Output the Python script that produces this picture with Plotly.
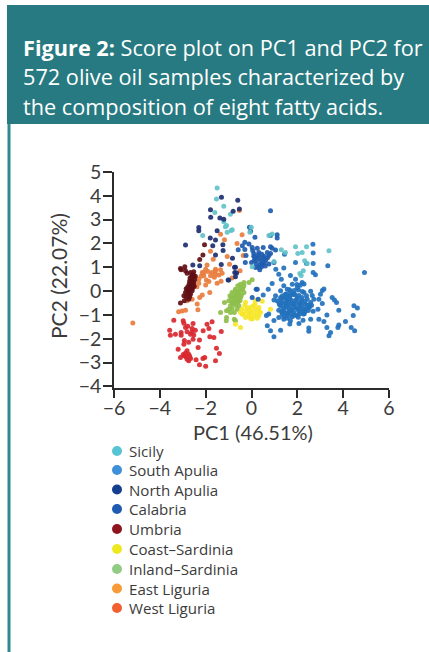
import plotly.graph_objects as go

# ---- text ----
regions = ["Sicily", "South Apulia", "North Apulia", "Calabria", "Umbria",
           "Coast–Sardinia", "Inland–Sardinia", "East Liguria", "West Liguria"]
x_ticks = [-6, -4, -2, 0, 2, 4, 6]
y_ticks = [-4, -3, -2, -1, 0, 1, 2, 3, 4, 5]

# ---- scores (PC1, PC2) ----
west_liguria_x = [-3.39,-2.98,-2.95,-2.55,-1.72,-1.94,-1.86,-2.11,-1.32,-3.57,-3.54,-3.32,-3.07,-2.88,-2.81,-2.59,-2.45,-2.66,-2.52,-3.07,-1.82,-1.64,-2.27,-2.93,-2.74,-2.95,-2.55,-3.20,-2.33,-1.53,-1.40,-2.81,-2.74,-2.93,-3.10,-2.66,-2.81,-2.74,-2.42,-2.12,-2.04,-1.57,-2.27,-2.00,-2.88,-2.86,-2.70,-2.98,-2.78,-2.60]
west_liguria_y = [-1.22,-1.25,-1.35,-1.36,-1.29,-1.39,-1.57,-1.67,-1.70,-1.64,-1.85,-1.81,-1.74,-1.53,-1.71,-1.57,-1.64,-1.81,-1.84,-1.85,-1.92,-1.95,-2.05,-2.08,-2.15,-2.23,-2.02,-2.44,-2.37,-2.40,-2.62,-2.51,-2.65,-2.72,-2.79,-2.83,-2.86,-2.93,-2.88,-2.83,-2.79,-2.93,-3.09,-3.16,-2.60,-2.76,-2.74,-2.66,-1.48,-1.72]
east_liguria_x = [-0.41,-0.63,-0.36,-1.35,-1.18,-1.79,-1.67,-1.06,-0.96,-1.35,-1.57,-1.72,-1.94,-2.00,-2.15,-2.08,-1.79,-1.57,-0.53,-2.08,-2.30,-2.30,-1.97,-2.00,-1.82,-2.15,-2.26,-1.50,-1.33,-1.57,-1.28,-1.42,-2.37,-2.34,-3.18,-3.03,-2.88,-2.59,-2.81,-5.18,-0.85,-0.50,-1.90,-2.20,-2.38,-1.62,-1.86]
east_liguria_y = [2.37,2.00,1.49,2.39,2.15,1.67,1.34,1.45,1.13,0.90,0.92,0.78,1.09,0.92,0.78,0.64,0.64,0.71,3.38,0.78,0.50,0.33,0.46,0.26,-0.06,-0.17,-0.27,0.33,0.41,0.85,0.75,0.67,-0.54,-0.78,-0.87,-0.84,-0.80,-0.34,-0.41,-1.34,0.55,0.85,0.82,0.62,0.18,0.58,0.40]
inland_sardinia_x = [-1.35,-1.09,-1.09,-1.10,-0.70,-0.92,-0.85,-1.18,-0.99,-0.85,-0.70,-0.48,-0.33,-0.11,0.03,-0.41,-0.55,-0.77,-0.62,-0.85,-0.48,-0.70,-0.92,-0.55,-0.62,-0.75,-0.33,-0.48,-0.59,-0.74,-0.88,-0.55,-0.33,-0.70,-0.99,-0.75,-0.66,-0.52,-0.80,-0.44,-0.60,-0.72,-0.38,-0.58,-0.94,-0.78,-0.66,-0.50]
inland_sardinia_y = [-0.90,-0.83,-1.11,-1.25,-1.25,-0.90,-0.73,-0.48,-0.41,-0.06,0.08,0.29,0.36,0.36,0.48,0.08,-0.13,-0.27,-0.41,-0.48,-0.27,-0.59,-0.62,-0.62,-0.76,-0.90,0.22,0.15,-0.03,-0.17,-0.27,-0.27,-0.06,-0.41,-0.76,-1.18,-0.20,0.02,-0.38,-0.18,0.22,0.00,0.10,-0.46,-0.20,-0.52,-0.32,-0.40]
coast_sardinia_x = [-0.26,0.17,-0.41,-0.22,-0.04,0.17,0.32,-0.33,-0.11,0.10,0.32,-0.04,-0.26,-0.48,-0.70,0.39,-0.48,0.47,0.32,0.83,0.03,-0.29,0.15,-0.05,-0.40,0.02,0.22,-0.18,0.25,-0.12,0.08]
coast_sardinia_y = [-0.47,-0.41,-0.76,-0.83,-0.69,-0.76,-0.83,-0.97,-0.97,-1.04,-1.04,-1.15,-1.11,-1.53,-1.39,-0.90,-0.90,-0.43,-0.69,-0.76,-1.17,-0.60,-0.55,-0.83,-0.97,-0.90,-0.92,-0.70,-1.14,-1.05,-0.62]
umbria_x = [-2.05,-2.12,-2.26,-3.10,-2.91,-2.88,-2.66,-2.52,-3.07,-2.81,-2.52,-2.45,-2.59,-2.52,-2.66,-2.74,-2.88,-2.74,-2.95,-2.59,-3.10,-2.93,-2.74,-2.63,-2.70,-2.56,-2.80,-2.48,-2.62,-2.68,-2.72,-2.60,-2.76,-2.84,-2.66,-2.55,-2.78,-2.58,-2.50,-2.70,-2.85,-2.64]
umbria_y = [1.95,1.51,1.33,0.95,1.02,0.85,0.78,0.64,0.90,0.75,0.81,0.62,0.50,0.36,0.22,0.08,-0.06,-0.13,-0.20,0.01,-0.50,-0.41,-0.34,0.30,0.42,0.15,0.02,0.48,0.60,0.55,0.30,0.10,-0.02,-0.25,-0.12,0.28,0.18,0.70,0.20,-0.24,0.10,0.38]
calabria_x = [-0.09,-0.04,0.15,1.12,1.12,0.83,-0.29,-0.11,-0.40,0.03,-0.29,0.51,0.25,0.83,1.05,0.10,0.32,0.69,0.83,0.90,0.15,0.32,0.54,0.76,0.40,0.62,0.21,0.47,0.32,0.18,-0.24,0.00,-0.27,0.76,0.98,-0.58,-0.99,0.20,0.03,0.29,0.25,0.83,0.05,0.45,0.60,0.22,0.38,0.50,0.28,0.12,0.56,0.70,0.36,0.44,0.10]
calabria_y = [2.68,2.51,2.26,2.37,2.23,2.33,2.05,1.98,1.90,1.83,1.75,1.83,1.80,1.86,1.72,1.58,1.62,1.62,1.58,1.80,1.41,1.41,1.46,1.49,1.27,1.30,1.14,1.14,0.99,0.99,1.49,1.20,1.20,1.14,1.20,1.73,0.47,0.08,-0.27,-0.34,0.08,3.37,1.70,1.55,1.05,1.30,1.12,1.38,1.50,1.28,1.20,1.40,0.90,1.02,1.46]
north_apulia_x = [-1.31,-0.60,-0.53,-1.79,-1.78,-1.38,-1.21,-0.80,-2.30,-2.30,-2.88,-1.50,-1.80,-1.57,-1.69,-1.25,-1.24,-1.57,-2.26,-2.56,-0.83,-0.74,-0.65,-1.32,-0.70,-0.73,-1.02,-0.70]
north_apulia_y = [3.94,3.81,3.45,3.42,3.10,3.07,3.02,3.35,2.67,2.53,1.93,2.53,2.23,2.14,1.90,1.95,1.70,1.51,1.06,1.09,1.38,1.00,0.76,1.12,1.00,0.78,0.46,0.60]
south_apulia_x = [1.44,1.92,2.40,2.69,3.33,4.93,2.69,2.79,1.41,1.06,1.19,1.30,0.90,1.70,1.92,2.21,2.29,0.73,0.51,2.68,2.69,
                  1.41,1.56,1.27,1.78,2.00,2.29,2.58,2.65,1.05,0.98,1.27,1.48,1.67,1.85,2.07,2.21,2.43,1.12,1.34,1.56,1.78,1.96,2.14,2.36,2.58,2.72,1.27,1.48,1.70,1.92,2.11,2.29,2.50,1.41,1.63,1.85,2.07,2.26,1.56,1.78,2.00,1.34,1.19,2.69,2.90,3.09,3.01,3.16,2.94,3.09,3.52,3.62,3.71,3.81,4.47,4.62,4.44,4.10,3.81,3.77,4.35,4.50,3.45,3.38,3.29,3.29,3.16,2.94,2.58,2.25,2.50,2.50,2.07,1.70,1.67,1.27,0.98,0.83,0.69,0.65,0.75,0.98,1.19,1.41,
                  1.63,1.85,1.50,2.20,1.35,1.75,2.00,2.40,1.60,2.30,1.90,1.20,2.55,2.10,1.45,
                  1.30,1.42,1.55,1.68,1.82,1.95,2.08,2.18,2.32,2.45,1.22,1.38,1.52,1.72,1.88,2.02,2.16,2.34,2.48,2.62,1.32,1.46,1.60,1.74,1.90,2.04,2.24,2.38,1.40,1.58,1.70,1.86,2.05,2.22,1.52,1.66,1.80,1.98,2.12,1.64]
south_apulia_y = [1.55,1.20,1.16,1.16,1.06,0.78,0.78,0.69,0.97,0.92,0.71,0.50,0.32,0.65,0.50,0.36,0.30,0.08,-0.17,1.97,1.60,
                  0.22,0.08,0.01,0.29,0.15,-0.06,-0.01,-0.19,-0.20,-0.38,-0.27,-0.13,-0.19,-0.10,-0.19,-0.27,-0.34,-0.41,-0.48,-0.38,-0.41,-0.48,-0.48,-0.55,-0.48,-0.34,-0.62,-0.66,-0.62,-0.71,-0.66,-0.76,-0.69,-0.83,-0.85,-0.90,-0.85,-0.96,-1.03,-1.08,-1.03,-0.96,-0.80,-0.85,-0.76,0.02,-0.13,0.09,-0.34,-0.52,-0.27,-0.38,-0.48,-0.80,-0.62,-0.71,-1.03,-1.28,-1.42,-1.53,-1.53,-1.67,-1.74,-1.88,-1.53,-1.00,-1.28,-1.18,-1.18,-1.22,-1.55,-1.69,-1.36,-1.25,-1.38,-1.64,-1.92,-1.67,-1.46,-1.03,-0.96,-1.24,-1.11,-1.18,
                  -0.50,-0.58,-0.30,-0.60,-0.20,-0.80,-0.30,-0.20,-0.70,-0.95,-0.15,-0.50,-0.65,-0.95,-0.50,
                  -0.34,-0.28,-0.46,-0.32,-0.52,-0.36,-0.56,-0.40,-0.44,-0.60,-0.56,-0.72,-0.62,-0.78,-0.66,-0.76,-0.74,-0.86,-0.82,-0.60,-0.88,-0.94,-0.92,-0.98,-1.02,-1.10,-0.88,-0.72,-1.08,-1.14,-0.04,0.02,0.04,-0.02,-0.12,0.06,-0.14,0.28,0.24,-0.24]
sicily_x = [-1.50,-1.53,-1.21,-1.60,-0.92,-1.21,-1.14,-1.06,-0.89,-2.13,-0.07,-0.01,-1.09,-0.84,0.76,0.90,0.98,0.03,1.30,1.48,1.92,2.40,2.02,2.21,3.38,2.32,2.43,2.26,2.11,2.17]
sicily_y = [4.33,3.87,3.56,3.30,3.23,2.91,2.70,2.47,2.54,2.33,2.47,2.68,2.75,2.58,2.33,2.40,1.24,1.02,1.74,1.62,1.86,1.86,1.58,1.62,1.69,1.27,1.16,0.85,0.74,0.65]

# ---- styles ----
W, H = 429, 652
L, R, T, B = 114, 389, 172, 388
INK = "#3b3b3b"
TEAL = "#277a81"
FONT = "Open Sans"
AXIS_FONT = "Lato"
def fx(p): return (p - L) / (R - L)
def fy(p): return (B - p) / (B - T)

point_colors = {"Sicily": "#62c2c9", "South Apulia": "#2271bd", "North Apulia": "#1c2f70",
                "Calabria": "#1e5cae", "Umbria": "#5f0e14", "Coast–Sardinia": "#f6e628",
                "Inland–Sardinia": "#8dbf4b", "East Liguria": "#e97d3e", "West Liguria": "#d9272f"}
key_colors = ["#57c4d4", "#3f90d8", "#143f8f", "#1f5bb0", "#8e1520",
              "#eee822", "#92cc84", "#f79a37", "#f26030"]

series = [("West Liguria", west_liguria_x, west_liguria_y),
          ("East Liguria", east_liguria_x, east_liguria_y),
          ("Inland–Sardinia", inland_sardinia_x, inland_sardinia_y),
          ("Coast–Sardinia", coast_sardinia_x, coast_sardinia_y),
          ("South Apulia", south_apulia_x, south_apulia_y),
          ("Calabria", calabria_x, calabria_y),
          ("Sicily", sicily_x, sicily_y),
          ("North Apulia", north_apulia_x, north_apulia_y),
          ("Umbria", umbria_x, umbria_y)]

fig = go.Figure()
for name, xs, ys in series:
    fig.add_trace(go.Scatter(x=xs, y=ys, mode="markers", name=name, showlegend=False,
                             marker=dict(size=5, color=point_colors[name], opacity=0.92, line=dict(width=0))))

shapes = [
    dict(type="rect", xref="paper", yref="paper", x0=fx(7), x1=fx(429), y0=fy(124), y1=fy(5),
         fillcolor=TEAL, line_width=0, layer="below"),
    dict(type="rect", xref="paper", yref="paper", x0=fx(7.5), x1=fx(10.5), y0=fy(652), y1=fy(124),
         fillcolor="#2f8a90", line_width=0, layer="below"),
]
annotations = []
for text, mid in [("<b>Figure 2:</b> Score plot on PC1 and PC2 for", 47),
                  ("572 olive oil samples characterized by", 77),
                  ("the composition of eight fatty acids.", 106)]:
    annotations.append(dict(text=text, xref="paper", yref="paper", x=fx(21), y=fy(mid),
                            xanchor="left", yanchor="middle", showarrow=False, align="left",
                            font=dict(family=FONT, size=21.7, color="#ffffff")))

key_y = [451, 470, 489.5, 509, 529, 549, 569, 588.5, 608]
for name, color, py in zip(regions, key_colors, key_y):
    shapes.append(dict(type="circle", xref="paper", yref="paper",
                       x0=fx(112), x1=fx(122), y0=fy(py + 5), y1=fy(py - 5),
                       fillcolor=color, line_width=0))
    annotations.append(dict(text=name, xref="paper", yref="paper", x=fx(127), y=fy(py),
                            xanchor="left", yanchor="middle", showarrow=False,
                            font=dict(family=FONT, size=15.1, color=INK)))

annotations.append(dict(text="PC1 (46.51%)", xref="paper", yref="paper", x=fx(253), y=fy(432),
                        xanchor="center", yanchor="middle", showarrow=False,
                        font=dict(family=AXIS_FONT, size=20, color=INK)))
annotations.append(dict(text="PC2 (22.07%)", xref="paper", yref="paper", x=fx(58), y=fy(276),
                        xanchor="center", yanchor="middle", showarrow=False, textangle=-90,
                        font=dict(family=AXIS_FONT, size=21, color=INK)))

axis_style = dict(showgrid=False, zeroline=False, showline=True, linecolor="#2b2b2b", linewidth=1.6,
                  ticks="outside", tickcolor="#2b2b2b", tickwidth=1.6,
                  tickfont=dict(family=AXIS_FONT, size=19.5, color=INK))
fig.update_layout(
    width=W, height=H, autosize=False, showlegend=False,
    paper_bgcolor="white", plot_bgcolor="white",
    margin=dict(l=L, r=W - R, t=T, b=H - B, autoexpand=False),
    font=dict(family=FONT, color=INK),
    shapes=shapes, annotations=annotations,
    xaxis=dict(range=[-6, 6], tickmode="array", tickvals=x_ticks, ticklen=8, ticklabelstandoff=-6, **axis_style),
    yaxis=dict(range=[-4.07, 5], tickmode="array", tickvals=y_ticks, ticklen=9, ticklabelstandoff=-2, **axis_style),
)
# The page's default 8px body margin would push the figure off its 429x652 frame.
fig.write_html("out.html", config={"displayModeBar": False},
               post_script="document.body.style.margin='0';")
